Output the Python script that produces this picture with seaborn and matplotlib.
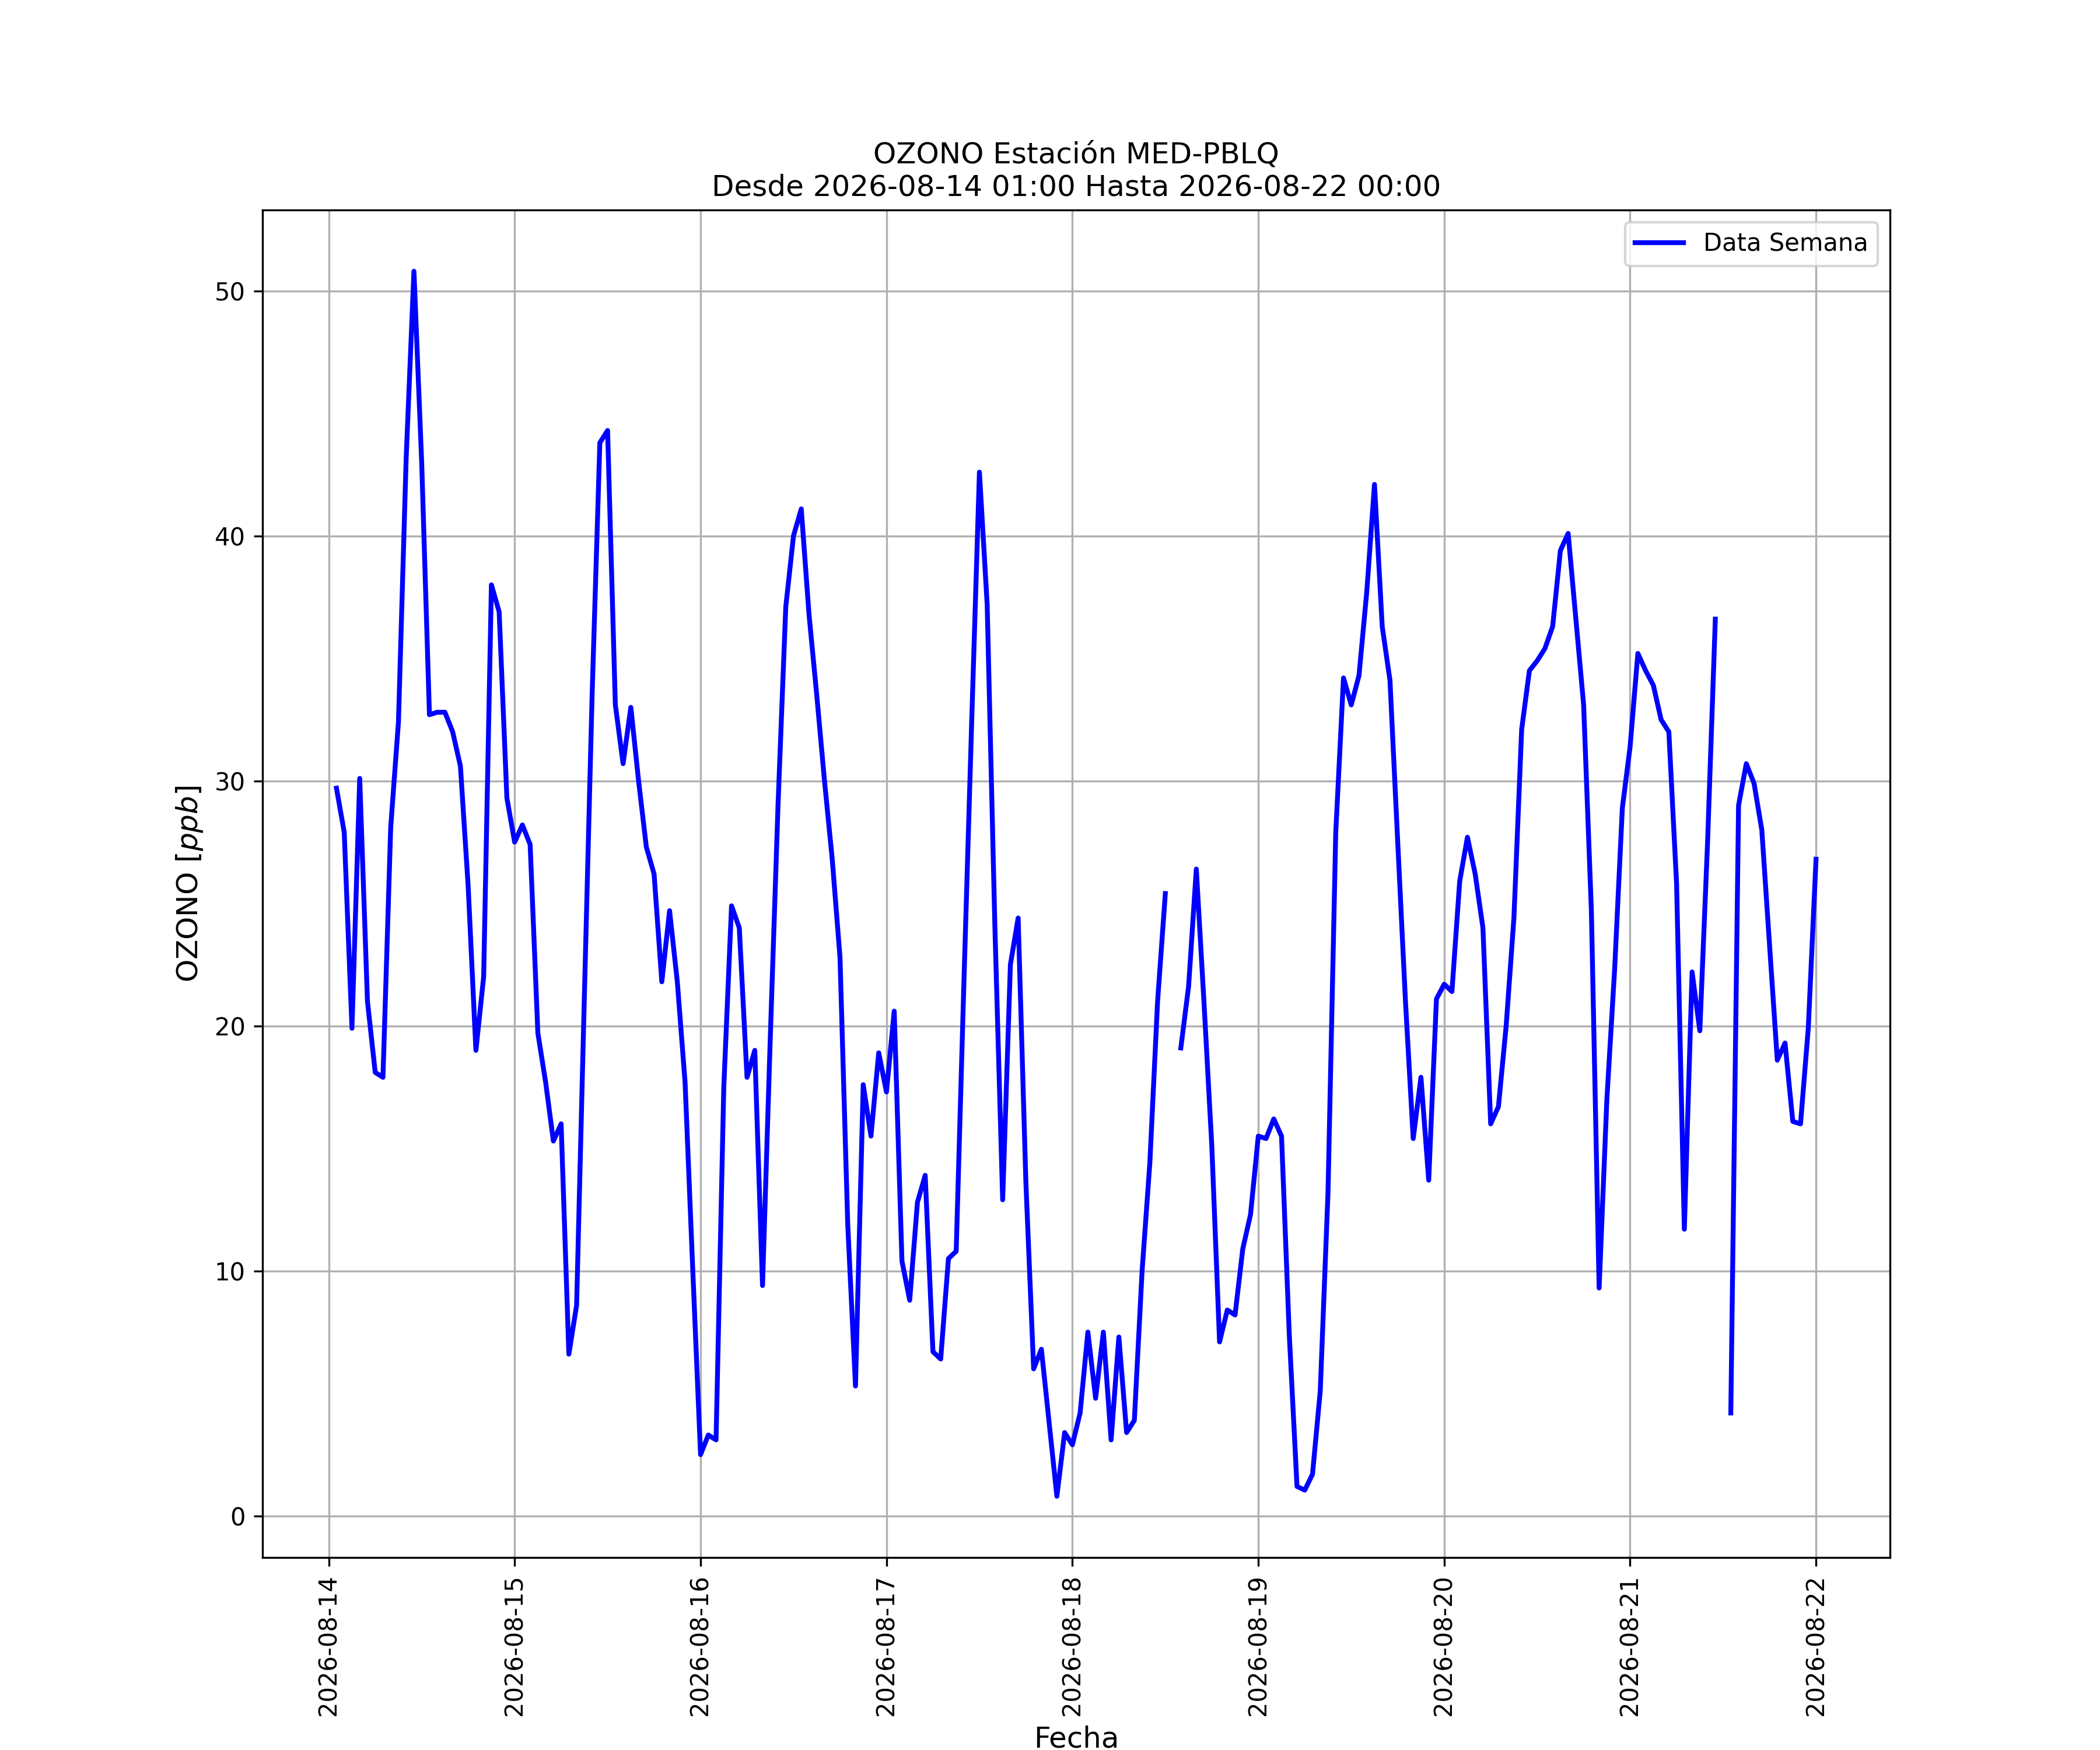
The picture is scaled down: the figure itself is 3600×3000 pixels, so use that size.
import numpy as np
import pandas as pd
import seaborn as sns
import matplotlib.pyplot as plt
import matplotlib.dates as mdates

nan = np.nan

# -----------------------------
# datos horarios de ozono (ppb), 01:00 a 24:00 de cada día
# -----------------------------
dia_14 = [29.7, 27.9, 19.9, 30.1, 21.0, 18.1, 17.9, 28.1, 32.4, 43.2, 50.8, 43.0,
          32.7, 32.8, 32.8, 32.0, 30.6, 25.7, 19.0, 22.0, 38.0, 36.9, 29.3, 27.5]
dia_15 = [28.2, 27.4, 19.7, 17.7, 15.3, 16.0, 6.6, 8.6, 21.2, 33.5, 43.8, 44.3,
          33.1, 30.7, 33.0, 30.0, 27.3, 26.2, 21.8, 24.7, 21.8, 17.7, 10.0, 2.5]
dia_16 = [3.3, 3.1, 17.5, 24.9, 24.0, 17.9, 19.0, 9.4, 19.5, 29.0, 37.1, 40.0,
          41.1, 36.8, 33.5, 30.0, 26.8, 22.8, 11.9, 5.3, 17.6, 15.5, 18.9, 17.3]
dia_17 = [20.6, 10.4, 8.8, 12.8, 13.9, 6.7, 6.4, 10.5, 10.8, 21.8, 32.4, 42.6,
          37.2, 24.0, 12.9, 22.5, 24.4, 13.6, 6.0, 6.8, 3.8, 0.8, 3.4, 2.9]
dia_18 = [4.2, 7.5, 4.8, 7.5, 3.1, 7.3, 3.4, 3.9, 10.0, 14.4, 21.0, 25.4,
          nan, 19.1, 21.6, 26.4, 20.9, 15.1, 7.1, 8.4, 8.2, 10.9, 12.3, 15.5]
dia_19 = [15.4, 16.2, 15.5, 7.4, 1.2, 1.05, 1.7, 5.1, 13.2, 27.9, 34.2, 33.1,
          34.3, 37.7, 42.1, 36.3, 34.1, 27.5, 21.0, 15.4, 17.9, 13.7, 21.1, 21.7]
dia_20 = [21.4, 25.9, 27.7, 26.2, 24.0, 16.0, 16.7, 20.0, 24.4, 32.1, 34.5, 34.9,
          35.4, 36.3, 39.4, 40.1, 36.6, 33.1, 24.7, 9.3, 17.0, 22.3, 28.9, 31.4]
dia_21 = [35.2, 34.5, 33.9, 32.5, 32.0, 25.8, 11.7, 22.2, 19.8, 27.5, 36.6, nan,
          4.2, 29.0, 30.7, 29.9, 28.0, 23.3, 18.6, 19.3, 16.1, 16.0, 19.9, 26.8]

inicio = "2026-08-14 01:00"
fin = "2026-08-22 00:00"
estacion = "MED-PBLQ"

valores = dia_14 + dia_15 + dia_16 + dia_17 + dia_18 + dia_19 + dia_20 + dia_21
fechas = pd.date_range(inicio, fin, freq="h")

df = pd.DataFrame({"Fecha": fechas, "ozono": valores})
# tramos separados por datos faltantes (para no unir los huecos)
df["tramo"] = df["ozono"].isna().cumsum()
df = df.dropna()

# -----------------------------
# gráfico
# -----------------------------
fig, ax = plt.subplots(figsize=(12, 10), dpi=300)

sns.lineplot(data=df, x="Fecha", y="ozono", units="tramo", estimator=None,
             color="blue", linewidth=2, legend=False, ax=ax)

for ln in ax.lines:
    ln.set_label("_nolegend_")
ax.lines[0].set_label("Data Semana")
ax.legend(handles=[ax.lines[0]], loc="upper right", fontsize=10)

ax.set_title(f"OZONO Estación {estacion}\nDesde {inicio} Hasta {fin}", fontsize=12)
ax.set_xlabel("Fecha", fontsize=12)
ax.set_ylabel("OZONO [$ppb$]", fontsize=12)

ax.xaxis.set_major_locator(mdates.DayLocator())
ax.xaxis.set_major_formatter(mdates.DateFormatter("%Y-%m-%d"))
plt.setp(ax.get_xticklabels(), rotation=90, fontsize=10)
plt.setp(ax.get_yticklabels(), fontsize=10)
ax.grid(True)

plt.savefig("out.png", dpi=300)
